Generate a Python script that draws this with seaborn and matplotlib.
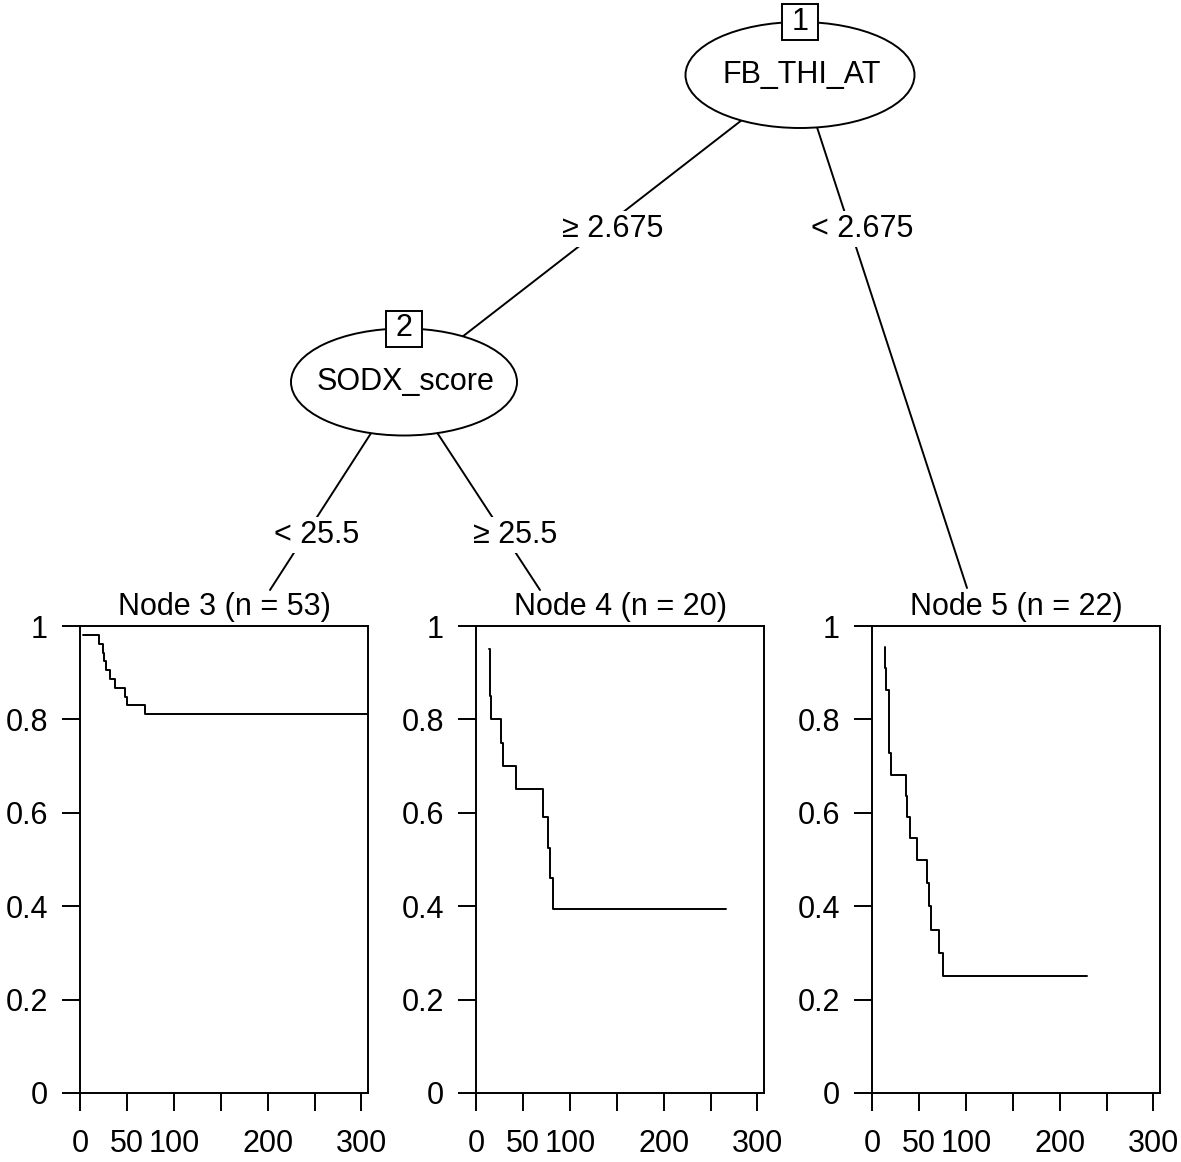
import numpy as np
import pandas as pd
import matplotlib
matplotlib.use("Agg")
import matplotlib.pyplot as plt
from matplotlib.patches import Ellipse, Rectangle
import seaborn as sns

# Kaplan-Meier steps
node3_time = [3, 20, 24, 26, 27.5, 32, 37, 48.5, 50.5, 69, 306]
node3_surv = [0.981, 0.962, 0.943, 0.925, 0.906, 0.887, 0.868, 0.849, 0.830, 0.811, 0.811]

node4_time = [14, 15, 16.4, 27, 29, 43, 71, 77, 79, 82, 266]
node4_surv = [0.95, 0.85, 0.80, 0.75, 0.70, 0.65, 0.59, 0.525, 0.46, 0.394, 0.394]

node5_time = [13.6, 14.3, 15.4, 18.2, 20, 35.8, 36.8, 40.4, 48.2, 59, 60.8, 62.9, 71.5, 75.8, 229]
node5_surv = [0.955, 0.909, 0.864, 0.727, 0.682, 0.636, 0.591, 0.545, 0.500, 0.450, 0.400,
              0.350, 0.300, 0.250, 0.250]

node_titles = ["Node 3 (n = 53)", "Node 4 (n = 20)", "Node 5 (n = 22)"]
x_ticks = [0, 50, 100, 150, 200, 250, 300]
x_labels = ["0", "50", "100", "", "200", "", "300"]
y_ticks = [0, 0.2, 0.4, 0.6, 0.8, 1]
y_labels = ["0", "0.2", "0.4", "0.6", "0.8", "1"]

# tree text
inner_vars = ["FB_THI_AT", "SODX_score"]
split_labels = ["\u2265 2.675", "< 2.675", "< 25.5", "\u2265 25.5"]

sns.set_theme(style="white")
plt.rcParams["font.family"] = ["Liberation Sans", "DejaVu Sans"]
plt.rcParams["text.color"] = "black"

W, H = 1181, 1162
fig = plt.figure(figsize=(W / 100, H / 100), dpi=100)
fig.patch.set_facecolor("white")

# overlay axes in pixel coordinates for the tree part
tree = fig.add_axes([0, 0, 1, 1])
tree.set_xlim(0, W)
tree.set_ylim(H, 0)
tree.axis("off")
tree.patch.set_alpha(0)

fs = 22
lw = 1.4

# node positions (pixels)
n1 = (800, 75)
n2 = (404, 382)
ends = {"n3": (270, 590), "n4": (540, 590), "n5": (967, 588)}

edges = [(n1, n2, split_labels[0], (613, 229)),
         (n1, ends["n5"], split_labels[1], (862, 229)),
         (n2, ends["n3"], split_labels[2], (317, 535)),
         (n2, ends["n4"], split_labels[3], (515, 535))]
for a, b, lab, pos in edges:
    tree.plot([a[0], b[0]], [a[1], b[1]], color="black", lw=lw, zorder=1)
    tree.text(pos[0], pos[1], lab, fontsize=fs, ha="center", va="center", zorder=3,
              bbox=dict(facecolor="white", edgecolor="none", pad=2))

for (cx, cy), w, h, name, num in [(n1, 229, 106, inner_vars[0], "1"),
                                   (n2, 226, 107, inner_vars[1], "2")]:
    tree.add_patch(Ellipse((cx, cy), w, h, facecolor="white", edgecolor="black", lw=lw, zorder=2))
    tree.text(cx + 2, cy, name, fontsize=fs, ha="center", va="center", zorder=3)
    by = cy - h / 2
    tree.add_patch(Rectangle((cx - 18, by - 18), 36, 36, facecolor="white",
                             edgecolor="black", lw=lw, zorder=4))
    tree.text(cx, by, num, fontsize=fs, ha="center", va="center", zorder=5)

# survival panels
panel_left = [80, 476, 872]
top, bottom, pw = 626, 1093, 288
series = [(node3_time, node3_surv), (node4_time, node4_surv), (node5_time, node5_surv)]

for i, (t, s) in enumerate(series):
    ax = fig.add_axes([panel_left[i] / W, 1 - bottom / H, pw / W, (bottom - top) / H])
    df = pd.DataFrame({"time": t, "surv": s})
    sns.lineplot(data=df, x="time", y="surv", color="black", lw=lw,
                 drawstyle="steps-post", estimator=None, ax=ax)
    ax.set_xlim(0, 307)
    ax.set_ylim(0, 1)
    ax.set_xticks(x_ticks)
    ax.set_xticklabels(x_labels)
    ax.set_yticks(y_ticks)
    ax.set_yticklabels(y_labels)
    ax.set_xlabel("")
    ax.set_ylabel("")
    for sp in ax.spines.values():
        sp.set_visible(True)
        sp.set_color("black")
        sp.set_linewidth(lw)
    ax.tick_params(axis="both", direction="out", length=13, width=lw, color="black",
                   labelsize=fs, labelcolor="black", bottom=True, left=True)
    ax.tick_params(axis="y", pad=10)
    ax.tick_params(axis="x", pad=13)
    ax.set_facecolor("white")
    ax.grid(False)
    fig.text((panel_left[i] + pw / 2) / W, 1 - 607 / H, node_titles[i],
             fontsize=fs, ha="center", va="center")

fig.savefig("out.png", dpi=100, facecolor="white")
